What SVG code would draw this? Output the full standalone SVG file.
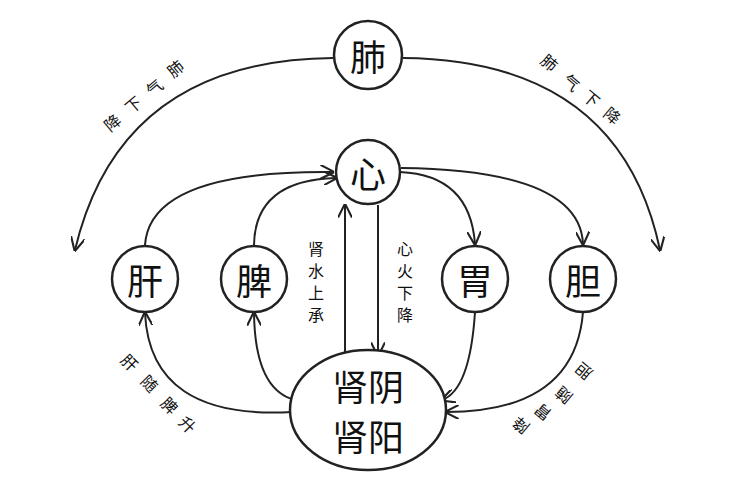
<svg xmlns="http://www.w3.org/2000/svg" width="742" height="487" viewBox="0 0 742 487">
<style>
.n{fill:#fff;stroke:#222;stroke-width:2.5}
.c{fill:none;stroke:#222;stroke-width:2;marker-end:url(#a)}
.t{font-family:"Noto Sans CJK SC",sans-serif;font-size:36px;fill:#111;text-anchor:middle;dominant-baseline:central}
.s{font-family:"Noto Sans CJK SC",sans-serif;font-size:16px;fill:#111;text-anchor:middle;dominant-baseline:central}
</style>
<defs><marker id="a" viewBox="0 0 10 10" refX="9" refY="5" markerWidth="7" markerHeight="7" orient="auto"><path d="M0,0 L10,5 L0,10" fill="none" stroke="#222" stroke-width="1.5"/></marker></defs>
<rect width="742" height="487" fill="#fff"/>
<g id="connectors">
<path class="c" d="M333,58 Q120,60 75,250"/>
<path class="c" d="M403,58 Q620,60 660,250"/>
<path class="c" d="M145,245 Q150,170 333,172"/>
<path class="c" d="M254,245 Q255,180 336,178"/>
<path class="c" d="M400,172 Q470,175 475,244"/>
<path class="c" d="M401,168 Q580,170 583,244"/>
<path class="c" d="M345,355 L345,205"/>
<path class="c" d="M378,205 L378,355"/>
<path class="c" d="M292,412 Q150,420 145,313"/>
<path class="c" d="M295,400 Q255,390 254,313"/>
<path class="c" d="M475,312 Q470,390 442,400"/>
<path class="c" d="M583,312 Q575,412 446,412"/>
</g>
<g id="lung"><circle class="n" cx="368" cy="55" r="34"/><text class="t" x="368" y="55">肺</text></g>
<g id="heart"><circle class="n" cx="368" cy="172" r="32"/><text class="t" x="368" y="172">心</text></g>
<g id="liver"><circle class="n" cx="145" cy="279" r="33"/><text class="t" x="145" y="279">肝</text></g>
<g id="spleen"><circle class="n" cx="254" cy="279" r="33"/><text class="t" x="254" y="279">脾</text></g>
<g id="stomach"><circle class="n" cx="475" cy="279" r="33"/><text class="t" x="475" y="279">胃</text></g>
<g id="gall"><circle class="n" cx="583" cy="279" r="33"/><text class="t" x="583" y="279">胆</text></g>
<g id="kidney"><ellipse class="n" cx="368" cy="410" rx="78" ry="60"/><text class="t" x="368" y="385">肾阴</text><text class="t" x="368" y="435">肾阳</text></g>
<g id="labels">
<text class="s" x="316" y="248">肾</text><text class="s" x="316" y="270">水</text><text class="s" x="316" y="292">上</text><text class="s" x="316" y="314">承</text>
<text class="s" x="405" y="248">心</text><text class="s" x="405" y="270">火</text><text class="s" x="405" y="292">下</text><text class="s" x="405" y="314">降</text>
<text class="s" transform="translate(175,68) rotate(-40)">肺</text><text class="s" transform="translate(154,87) rotate(-40)">气</text><text class="s" transform="translate(133,104) rotate(-40)">下</text><text class="s" transform="translate(112,122) rotate(-40)">降</text>
<text class="s" transform="translate(550,62) rotate(40)">肺</text><text class="s" transform="translate(572,82) rotate(40)">气</text><text class="s" transform="translate(592,98) rotate(40)">下</text><text class="s" transform="translate(613,115) rotate(40)">降</text>
<text class="s" transform="translate(130,362) rotate(45)">肝</text><text class="s" transform="translate(150,383) rotate(45)">随</text><text class="s" transform="translate(170,405) rotate(45)">脾</text><text class="s" transform="translate(188,424) rotate(45)">升</text>
<text class="s" transform="translate(583,372) rotate(-140)">胆</text><text class="s" transform="translate(563,396) rotate(-140)">随</text><text class="s" transform="translate(542,413) rotate(-140)">胃</text><text class="s" transform="translate(520,426) rotate(-140)">降</text>
</g>
</svg>
